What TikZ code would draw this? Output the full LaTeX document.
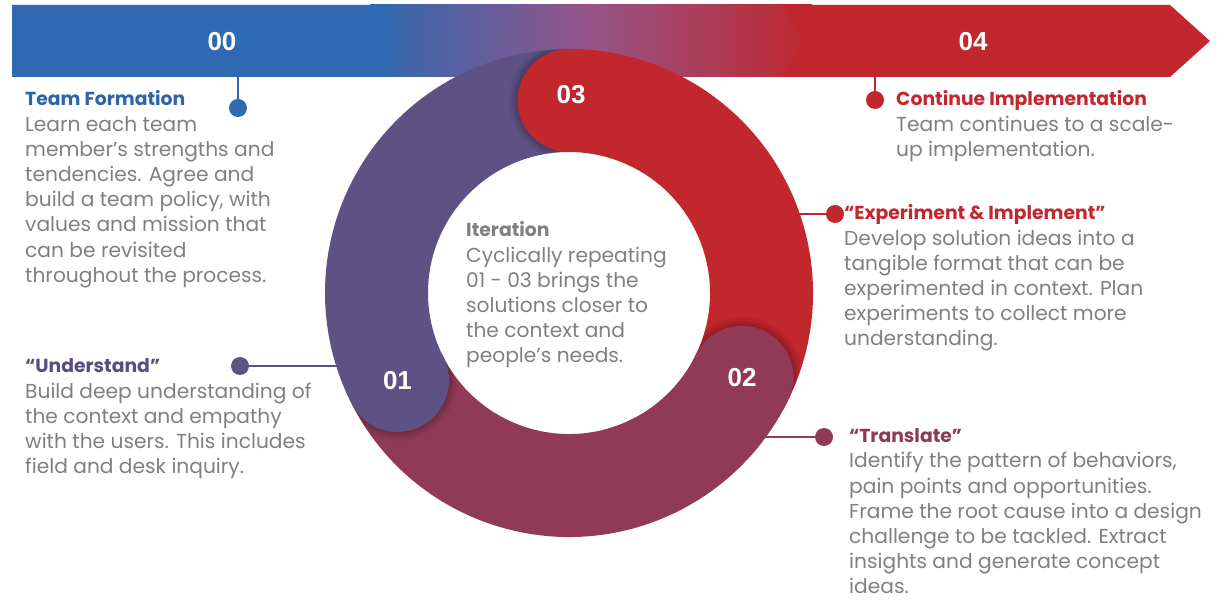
\documentclass[tikz,border=0pt]{standalone}
\usepackage{fontspec}
\setmainfont{Poppins}
\newfontfamily\numfont{Liberation Sans}
\usetikzlibrary{calc}
\definecolor{cblue}{RGB}{47,105,177}
\definecolor{cred}{RGB}{193,39,45}
\definecolor{cpurple}{RGB}{94,82,133}
\definecolor{cmaroon}{RGB}{145,58,87}
\definecolor{cmid}{RGB}{150,84,136}
\definecolor{ctext}{RGB}{128,128,128}
\definecolor{ctblue}{RGB}{46,100,168}
\definecolor{ctpurple}{RGB}{91,76,128}
\definecolor{ctmaroon}{RGB}{142,58,87}
\newcommand{\ttl}[2]{{\fontsize{18.8}{25.2}\selectfont\bfseries\color{#1}#2}}
\begin{document}
\begin{tikzpicture}[x=1pt,y=1pt,
  body/.style={anchor=base west, align=left, inner sep=0pt, text=ctext, font=\fontsize{20.2}{25.2}\selectfont},
  num/.style={text=white, font=\numfont\bfseries\fontsize{26}{30}\selectfont, inner sep=0pt},
  dotnode/.style={circle, fill=#1, minimum size=18pt, inner sep=0pt},
  link/.style={draw=#1, line width=1.5pt},
  seg/.style={line width=103pt, draw=#1},
]
\fill[white] (0,0) rectangle (1219,600);
\useasboundingbox (0,0) rectangle (1219,600);

% banner
\shade[left color=cblue, right color=cred, middle color=cmid] (370,523) rectangle (812,595);
\fill[cblue] (12,523) -- (12,595) -- (380,595) -- (400,559) -- (380,523) -- cycle;
\fill[cred] (781,595) -- (805,559) -- (781,523) -- (1170,523) -- (1210,559) -- (1170,595) -- cycle;
\node[num] (n00) at (222,558) {00};
\node[num] (n04) at (973,558) {04};

% connectors
\node[dotnode=cblue] (d0) at (238,492) {};
\coordinate (b0) at (238,523);
\draw[link=cblue] (b0) -- (d0);
\node[dotnode=cred] (d4) at (875,500) {};
\coordinate (b4) at (875,523);
\draw[link=cred] (b4) -- (d4);
\node[dotnode=cred] (d3) at (835,386) {};
\coordinate (r3) at (790,386);
\draw[link=cred] (r3) -- (d3);
\node[dotnode=cpurple] (d1) at (240,234) {};
\coordinate (r1) at (345,234);
\draw[link=cpurple] (d1) -- (r1);
\node[dotnode=cmaroon] (d2) at (824,163) {};
\coordinate (r2) at (760,163);
\draw[link=cmaroon] (r2) -- (d2);

% ring
\coordinate (C) at (569,307);
\draw[seg=cpurple] ($(C)+(90:192.5)$) arc[start angle=90, end angle=207, radius=192.5];
\draw[seg=cmaroon] ($(C)+(207:192.5)$) arc[start angle=207, end angle=334, radius=192.5];
\draw[seg=cred] ($(C)+(-26:192.5)$) arc[start angle=-26, end angle=90, radius=192.5];
\foreach \a/\c in {207/cpurple, 334/cmaroon, 90/cred} {
  \begin{scope}
    \clip (C) -- ($(C)+(\a:320)$) arc[start angle=\a, end angle=\a+70, radius=320] -- cycle;
    \begin{scope}[even odd rule]
      \clip (C) circle[radius=243.5] (C) circle[radius=141.5];
      \foreach \r in {60,57,55,53} {
        \fill[black, opacity=0.06] ($(C)+(\a:192.5)$) circle[radius=\r];
      }
    \end{scope}
  \end{scope}
  \fill[fill=\c] ($(C)+(\a:192.5)$) circle[radius=51.5];
}
\node[num] (n01) at ($(C)+(207:192.5)$) {01};
\node[num] (n02) at ($(C)+(334:192.5)$) {02};
\node[num] (n03) at (571,505) {03};

% texts (anchor = baseline of last line)
\node[body] (t0) at (25,317.6) {\ttl{ctblue}{Team Formation}\\Learn each team\\member’s strengths and\\tendencies. Agree and\\build a team policy, with\\values and mission that\\can be revisited\\throughout the process.};
\node[body] (t1) at (25,126.2) {\ttl{ctpurple}{“Understand”}\\Build deep understanding of\\the context and empathy\\with the users. This includes\\field and desk inquiry.};
\node[body] (t4) at (896,443.6) {\ttl{cred}{Continue Implementation}\\Team continues to a scale-\\up implementation.};
\node[body] (t3) at (844,254) {\ttl{cred}{“Experiment \& Implement”}\\Develop solution ideas into a\\tangible format that can be\\experimented in context. Plan\\experiments to collect more\\understanding.};
\node[body] (t2) at (849,6) {\ttl{ctmaroon}{“Translate”}\\Identify the pattern of behaviors,\\pain points and opportunities.\\Frame the root cause into a design\\challenge to be tackled. Extract\\insights and generate concept\\ideas.};
\node[body] (ti) at (466,237) {\ttl{ctext}{Iteration}\\Cyclically repeating\\01 - 03 brings the\\solutions closer to\\the context and\\people’s needs.};
\end{tikzpicture}
\end{document}
